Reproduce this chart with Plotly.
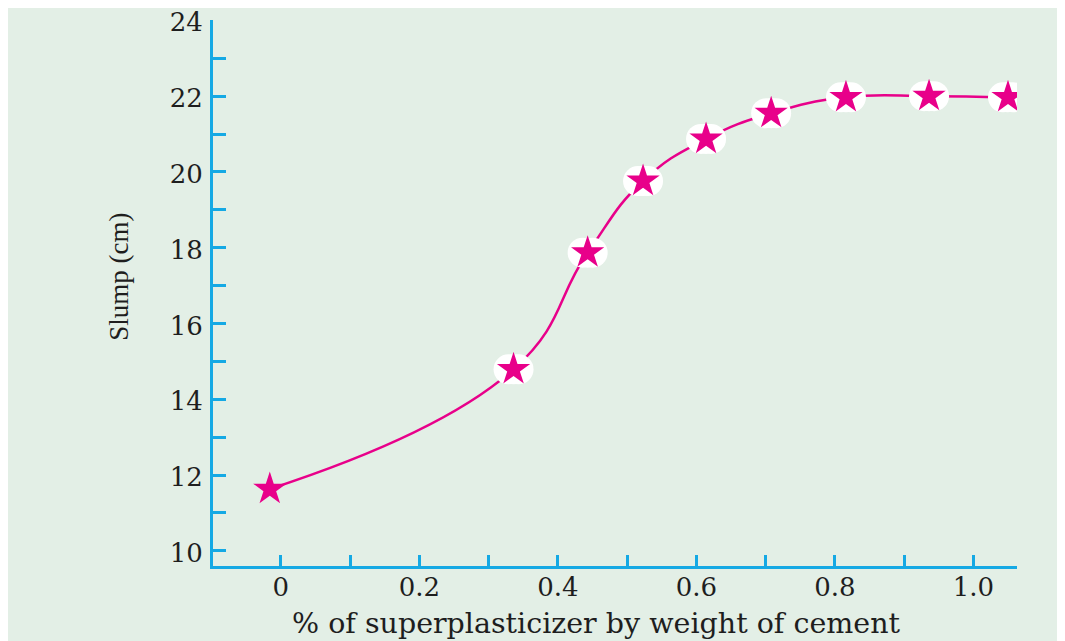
import plotly.graph_objects as go

dose = [-0.016, 0.336, 0.443, 0.523, 0.614, 0.708, 0.816, 0.936, 1.050]
slump = [11.63, 14.79, 17.87, 19.76, 20.87, 21.55, 21.97, 22.0, 21.97]
x_tickvals = [0, 0.2, 0.4, 0.6, 0.8, 1.0]
x_ticktext = ["0", "0.2", "0.4", "0.6", "0.8", "1.0"]
y_tickvals = [10, 12, 14, 16, 18, 20, 22, 24]

BG = "#e3efe6"
AX = "#15a9e4"
MAG = "#e8008a"
FONT = "DejaVu Serif"
TXT = "#1e1e1e"

W, H = 1049, 633
L, R, T, B = 205, 40, 12, 75
XR = [-0.098, 1.063]
px_per_unit = (W - L - R) / (XR[1] - XR[0])
dx = 5 / px_per_unit  # horizontal stretch of the white halo (pixels -> data units)

fig = go.Figure()
fig.add_trace(go.Scatter(x=dose, y=slump, mode="lines",
                         line=dict(color=MAG, width=2.5, shape="spline", smoothing=1.3),
                         hoverinfo="skip", showlegend=False))
for sgn in (-1, 0, 1):
    fig.add_trace(go.Scatter(x=[v + sgn * dx for v in dose[1:]], y=slump[1:], mode="markers",
                             marker=dict(symbol="circle", size=30, color="white", line=dict(width=0)),
                             hoverinfo="skip", showlegend=False))
fig.add_trace(go.Scatter(x=dose, y=slump, mode="markers",
                         marker=dict(symbol="star", size=25, color=MAG, line=dict(width=0)),
                         showlegend=False))

fig.update_layout(
    width=W, height=H,
    paper_bgcolor=BG, plot_bgcolor=BG,
    margin=dict(l=L, r=R, t=T, b=B, autoexpand=False),
    font=dict(family=FONT, size=26, color=TXT),
    xaxis=dict(range=XR, showgrid=False, zeroline=False,
               showline=True, linecolor=AX, linewidth=3,
               ticks="inside", ticklen=11, tickwidth=3, tickcolor=AX,
               tickvals=x_tickvals, ticktext=x_ticktext,
               tickfont=dict(family=FONT, size=26, color=TXT),
               minor=dict(dtick=0.1, tick0=0, ticks="inside", ticklen=11, tickwidth=3, tickcolor=AX),
               ticklabelstandoff=-4, automargin=False, ticklabeloverflow="allow"),
    yaxis=dict(range=[9.6, 24.01], showgrid=False, zeroline=False,
               showline=True, linecolor=AX, linewidth=3,
               ticks="inside", ticklen=13, tickwidth=3, tickcolor=AX,
               tickvals=y_tickvals,
               tickfont=dict(family=FONT, size=26, color=TXT),
               minor=dict(dtick=1, tick0=0, ticks="inside", ticklen=13, tickwidth=3, tickcolor=AX),
               ticklabelstandoff=2, ticklabelshift=2, automargin=False, ticklabeloverflow="allow"),
    annotations=[
        dict(text="% of superplasticizer by weight of cement", xref="paper", yref="paper",
             x=0.477, y=-0.105, xanchor="center", yanchor="middle", showarrow=False,
             font=dict(family=FONT, size=28.5, color=TXT)),
        dict(text="Slump (cm)", xref="paper", yref="paper", textangle=-90,
             x=-0.118, y=0.53, xanchor="center", yanchor="middle", showarrow=False,
             font=dict(family="Liberation Serif", size=27, color=TXT)),
    ],
)

fig.write_html("out.html")
